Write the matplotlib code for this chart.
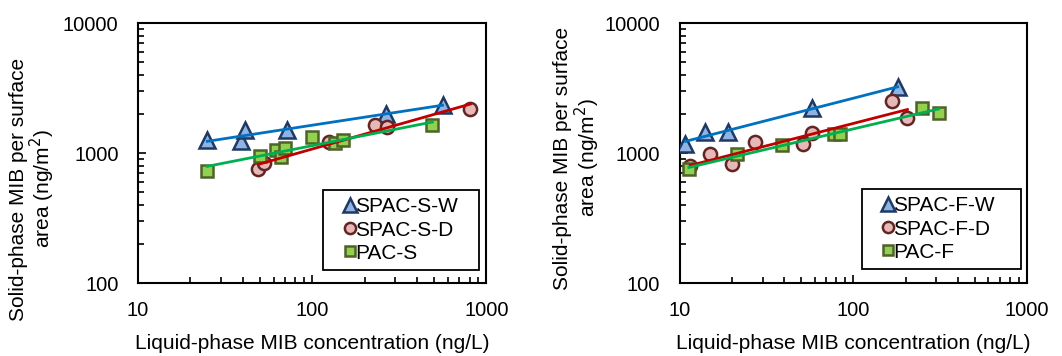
import numpy as np
import matplotlib
matplotlib.use('Agg')
import matplotlib.pyplot as plt
from matplotlib.ticker import LogLocator, NullFormatter

plt.rcParams['font.family'] = ['Liberation Sans', 'DejaVu Sans']

# left panel (S)
sw_x = [25, 39, 41, 72, 265, 560]
sw_y = [1250, 1230, 1500, 1500, 2000, 2350]
sd_x = [49, 53, 125, 230, 270, 810]
sd_y = [760, 840, 1210, 1650, 1590, 2200]
ps_x = [25, 50, 62, 66, 70, 100, 135, 150, 490]
ps_y = [730, 950, 1060, 930, 1100, 1340, 1190, 1260, 1640]

# right panel (F)
fw_x = [10.8, 14, 19, 58, 180]
fw_y = [1170, 1450, 1450, 2230, 3200]
fd_x = [11.5, 15, 20, 27, 51, 58, 168, 205]
fd_y = [800, 990, 820, 1210, 1170, 1420, 2500, 1870]
pf_x = [11.3, 21.5, 39, 77, 84, 250, 310]
pf_y = [760, 980, 1160, 1400, 1390, 2240, 2050]

labels_left = ['SPAC-S-W', 'SPAC-S-D', 'PAC-S']
labels_right = ['SPAC-F-W', 'SPAC-F-D', 'PAC-F']

styles = [
    dict(marker='^', ms=11.5, mfc='#8EB4E3', mec='#1F3864', line='#0070C0'),
    dict(marker='o', ms=9.5, mfc='#E6B9B8', mec='#632523', line='#C00000'),
    dict(marker='s', ms=8.5, mfc='#92D050', mec='#4F6228', line='#00B050'),
]


def power_fit(x, y):
    x = np.asarray(x, float)
    y = np.asarray(y, float)
    b, a = np.polyfit(np.log10(x), np.log10(y), 1)
    xs = np.array([x.min(), x.max()])
    return xs, 10 ** (a + b * np.log10(xs))


def panel(ax, series, labels, ylab_pos, leg_box):
    handles = []
    for (x, y), st, lab in zip(series, styles, labels):
        h, = ax.plot(x, y, ls='none', marker=st['marker'], ms=st['ms'],
                     mfc=st['mfc'], mec=st['mec'], mew=1.8, label=lab, zorder=3)
        handles.append(h)
    for (x, y), st in zip(series, styles):
        fx, fy = power_fit(x, y)
        ax.plot(fx, fy, color=st['line'], lw=2.0, zorder=4)
    ax.set_xscale('log')
    ax.set_yscale('log')
    ax.set_xlim(10, 1000)
    ax.set_ylim(100, 10000)
    ax.set_xticks([10, 100, 1000])
    ax.set_xticklabels(['10', '100', '1000'])
    ax.set_yticks([100, 1000, 10000])
    ax.set_yticklabels(['100', '1000', '10000'])
    ax.xaxis.set_minor_locator(LogLocator(base=10, subs=np.arange(2, 10)))
    ax.yaxis.set_minor_locator(LogLocator(base=10, subs=np.arange(2, 10)))
    ax.xaxis.set_minor_formatter(NullFormatter())
    ax.yaxis.set_minor_formatter(NullFormatter())
    ax.tick_params(which='both', direction='in', top=False, right=False,
                   labelsize=14.5, width=1.2)
    ax.tick_params(axis='x', which='both', pad=13)
    ax.tick_params(axis='y', which='both', pad=14)
    ax.tick_params(which='major', length=6)
    ax.tick_params(which='minor', length=4)
    for s in ax.spines.values():
        s.set_linewidth(1.5)
    ax.set_xlabel('Liquid-phase MIB concentration (ng/L)', fontsize=15, labelpad=10)
    ax.set_ylabel('Solid-phase MIB per surface\narea (ng/m$^2$)', fontsize=15,
                  linespacing=1.0)
    ax.yaxis.set_label_coords(*ylab_pos)
    leg = ax.legend(handles=handles, loc='lower left', mode='expand',
                    bbox_to_anchor=leg_box, borderaxespad=0,
                    fontsize=15, handlelength=1.85, handletextpad=-0.68,
                    markerscale=0.85, borderpad=0.35, labelspacing=0.2,
                    fancybox=False, framealpha=1, edgecolor='black')
    leg.get_frame().set_linewidth(1.3)


fig = plt.figure(figsize=(10.62, 3.56), dpi=100)
ax1 = fig.add_axes([0.130, 0.205, 0.328, 0.730])
ax2 = fig.add_axes([0.640, 0.205, 0.327, 0.730])

panel(ax1, [(sw_x, sw_y), (sd_x, sd_y), (ps_x, ps_y)], labels_left,
      (-0.233, 0.362), (185 / 348, 13 / 260, 156 / 348, 0.3))
panel(ax2, [(fw_x, fw_y), (fd_x, fd_y), (pf_x, pf_y)], labels_right,
      (-0.225, 0.481), (182 / 347, 14 / 260, 159 / 347, 0.3))

fig.savefig('out.png', dpi=100)
